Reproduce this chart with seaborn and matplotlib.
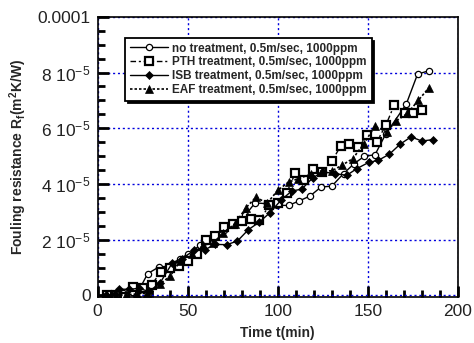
import numpy as np
import pandas as pd
import matplotlib
matplotlib.use("Agg")
import matplotlib.pyplot as plt
import seaborn as sns
from matplotlib.ticker import MultipleLocator, FixedLocator

# ---- data (time in min, fouling resistance in m2K/W) ----
no_t = [4, 9, 14, 19, 23, 27.8, 34, 40, 45.7, 50.4, 57, 64, 70, 75, 81.9, 87.4, 94, 99.4, 106,
        111.9, 118, 124, 130, 136.5, 142.4, 148, 154, 160, 171.3, 177.6, 183.7]
no_r = [0.0, 0.05, 0.08, 0.12, 0.2, 0.78, 1.02, 1.05, 1.3, 1.5, 1.8, 2.07, 2.35, 2.6, 2.87, 3.32,
        3.29, 3.23, 3.23, 3.39, 3.57, 3.89, 3.92, 4.37, 4.73, 4.99, 5.05, 5.8, 6.86, 7.94, 8.06]

pth_t = [5, 10, 15, 19.8, 25, 30, 35, 40, 45, 50, 55, 60, 65, 70, 75, 80, 85, 89.8, 95.4, 100,
         105, 109.8, 114.6, 119.8, 124.8, 130, 135, 139.8, 144.8, 149.6, 155, 160, 164.8,
         170.4, 175, 180]
pth_r = [0.0, 0.0, -0.06, 0.3, 0.28, 0.38, 0.84, 1.0, 1.04, 1.23, 1.47, 1.98, 2.12, 2.46, 2.55,
         2.66, 2.73, 2.69, 3.23, 3.33, 3.69, 4.40, 4.13, 4.55, 4.43, 4.81, 5.37, 5.45, 5.33,
         5.77, 5.51, 6.11, 6.85, 6.53, 6.55, 6.65]

isb_t = [4.6, 9.6, 11.9, 17.6, 23, 28.5, 34.6, 41.5, 46.7, 53.7, 59.6, 65.2, 71.7, 77.6, 83.7,
         89.8, 95.7, 101.7, 107.8, 113.3, 119.4, 125, 131.9, 138.3, 143.9, 150.4, 155.9, 162,
         168, 174, 180, 186]
isb_r = [0.0, 0.06, 0.22, 0.22, 0.25, 0.14, 0.44, 1.17, 1.32, 1.62, 1.64, 1.83, 1.82, 1.95, 2.36,
         2.63, 2.97, 3.41, 3.75, 3.81, 4.22, 4.43, 4.37, 4.31, 4.55, 4.77, 4.85, 5.07, 5.43,
         5.69, 5.54, 5.59]

eaf_t = [5, 10, 16, 21.7, 27.6, 34.6, 40.2, 46, 52.5, 58.7, 64.3, 69.4, 76.3, 82.4, 88, 94,
         100, 106, 111.5, 118.3, 124.4, 130, 135.6, 141.7, 147.6, 154, 160.5, 165.7, 172, 178, 184]
eaf_r = [0.0, 0.0, 0.02, 0.05, 0.08, 0.42, 0.68, 1.25, 1.5, 1.8, 1.88, 2.24, 2.57, 3.15, 3.53,
         3.3, 3.77, 4.07, 4.19, 4.35, 4.47, 4.47, 4.67, 4.91, 5.43, 6.07, 5.87, 6.26, 6.53,
         7.0, 7.46]

labels = ["no treatment, 0.5m/sec, 1000ppm",
          "PTH treatment, 0.5m/sec, 1000ppm",
          "ISB treatment, 0.5m/sec, 1000ppm",
          "EAF treatment, 0.5m/sec, 1000ppm"]
x_ticks = [0, 50, 100, 150, 200]
y_ticks = [0, 2e-5, 4e-5, 6e-5, 8e-5, 1e-4]
y_tick_labels = ["0", "2 10$^{\\mathregular{-5}}$", "4 10$^{\\mathregular{-5}}$",
                 "6 10$^{\\mathregular{-5}}$", "8 10$^{\\mathregular{-5}}$", "0.0001"]

sns.set_style("white")
plt.rcParams["font.family"] = ["Liberation Sans", "DejaVu Sans"]
plt.rcParams["mathtext.fontset"] = "custom"
plt.rcParams["mathtext.rm"] = "Liberation Sans"
plt.rcParams["mathtext.it"] = "Liberation Sans:italic"
plt.rcParams["mathtext.bf"] = "Liberation Sans:bold"

fig = plt.figure(figsize=(4.74, 3.43), dpi=100)
ax = fig.add_axes([0.206, 0.134, 0.760, 0.817])

series = [
    (no_t, no_r, dict(marker="o", ms=4.5, mfc="white", mec="black", mew=0.9,
                      linestyle="-", lw=1.0)),
    (pth_t, pth_r, dict(marker="s", ms=5.5, mfc="white", mec="black", mew=1.6,
                        linestyle=(0, (4, 2, 1.5, 2)), lw=1.0)),
    (isb_t, isb_r, dict(marker="D", ms=4.5, mfc="black", mec="black", mew=0.5,
                        linestyle="-", lw=1.0)),
    (eaf_t, eaf_r, dict(marker="^", ms=6, mfc="black", mec="black", mew=0.5,
                        linestyle=(0, (1.5, 1.2)), lw=1.2)),
]
for (t, r, kw), lab in zip(series, labels):
    df = pd.DataFrame({"t": t, "R": np.array(r) * 1e-5})
    sns.lineplot(data=df, x="t", y="R", ax=ax, color="black", label=lab,
                 estimator=None, sort=False, zorder=3, **kw)

ax.set_xlim(0, 200)
ax.set_ylim(-0.6e-6, 1e-4)
ax.xaxis.set_major_locator(FixedLocator(x_ticks))
ax.xaxis.set_minor_locator(MultipleLocator(10))
ax.yaxis.set_major_locator(FixedLocator(y_ticks))
ax.yaxis.set_minor_locator(MultipleLocator(5e-6))
ax.set_yticklabels(y_tick_labels)

ax.grid(True, which="major", color="#0000dd", linestyle=(0, (1.5, 2)), linewidth=1.0, zorder=0)
ax.set_axisbelow(True)
for s in ax.spines.values():
    s.set_color("black")
    s.set_linewidth(1.2)

ax.tick_params(axis="both", which="major", direction="in", length=8, width=2,
               labelsize=12.5, colors="black", labelcolor="#222222", pad=5)
ax.tick_params(axis="both", which="minor", direction="in", length=5, width=2, colors="black")
ax.tick_params(top=False, right=False, which="both")
ax.tick_params(left=True, bottom=True, which="both")

ax.set_xlabel("Time t(min)", fontsize=10, fontweight="bold", labelpad=5)
ax.set_ylabel("Fouling resistance R$_{\\mathregular{f}}$(m$^{\\mathregular{2}}$K/W)",
              fontsize=10, fontweight="bold", labelpad=6)

leg = ax.legend(loc="upper left", bbox_to_anchor=(0.076, 0.925), borderaxespad=0,
                frameon=True, fancybox=False, shadow={"color": "black", "alpha": 1.0},
                prop={"weight": "bold", "size": 8.5}, handlelength=3.2,
                labelspacing=0.15, handletextpad=0.4, borderpad=0.4)
leg.get_frame().set_edgecolor("black")
leg.get_frame().set_linewidth(1.3)
leg.set_zorder(5)

fig.savefig("out.png", dpi=100)
